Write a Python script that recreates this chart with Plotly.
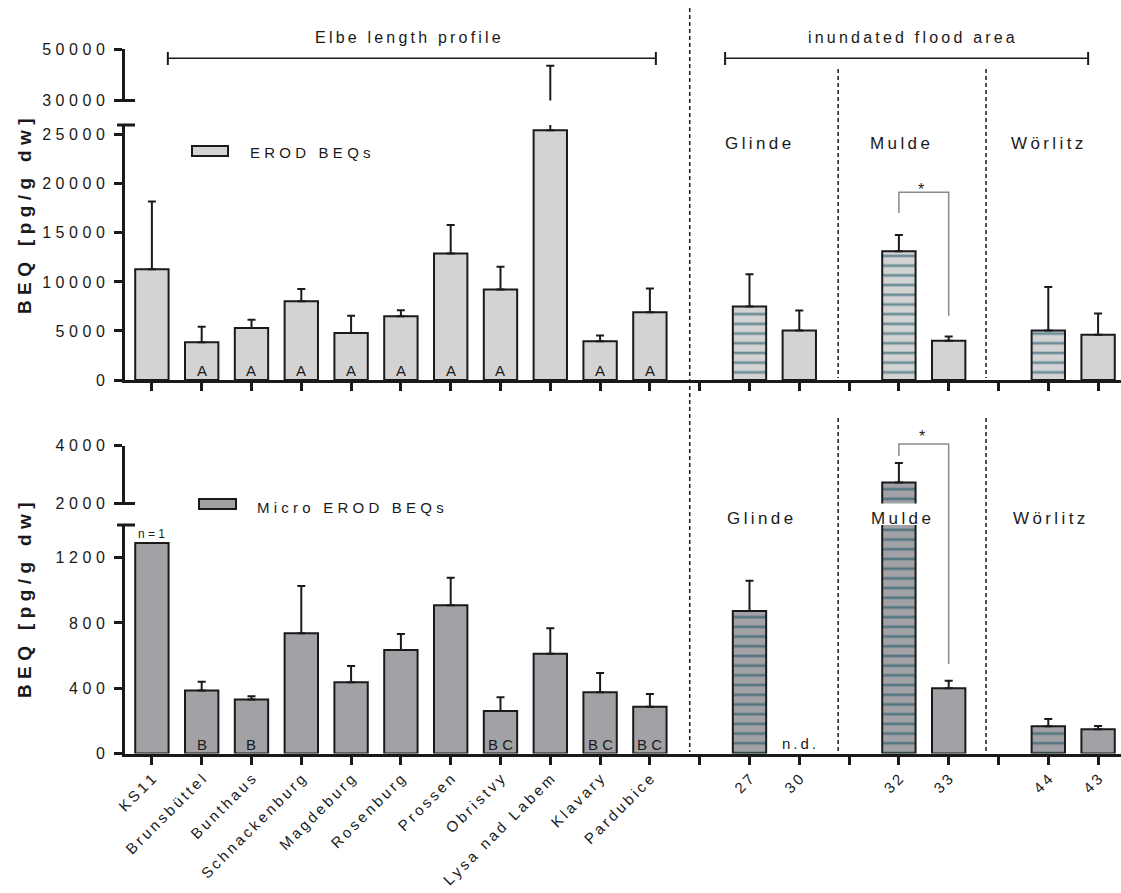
import plotly.graph_objects as go

# ---------------- data ----------------
sites_elbe = ["KS11", "Brunsbüttel", "Bunthaus", "Schnackenburg", "Magdeburg", "Rosenburg",
              "Prossen", "Obristvy", "Lysa nad Labem", "Klavary", "Pardubice"]
sites_flood = ["27", "30", "32", "33", "44", "43"]
categories = sites_elbe + sites_flood
group_sizes = [11, 2, 2, 2]          # Elbe profile, Glinde, Mulde, Wörlitz

erod_mean = [11280, 3860, 5290, 8040, 4780, 6510, 12910, 9230, 25460, 3960, 6920,
             7500, 5050, 13140, 4000, 5050, 4610]
erod_err = [6930, 1570, 850, 1230, 1770, 610, 2890, 2320, 18000, 580, 2420,
            3270, 2040, 1640, 440, 4420, 2180]
micro_mean = [1290, 386, 331, 736, 437, 634, 908, 261, 611, 376, 286,
              873, None, 2724, 400, 167, 149]
micro_err = [0, 53, 20, 290, 99, 98, 169, 83, 156, 117, 78,
             186, 0, 676, 45, 45, 20]
hatched = [False] * 11 + [True, False, True, False, True, False]
letters_erod = ["", "A", "A", "A", "A", "A", "A", "A", "", "A", "A"] + [""] * 6
letters_micro = ["", "B", "B", "", "", "", "", "B C", "", "B C", "B C"] + [""] * 6
group_labels = ["Glinde", "Mulde", "Wörlitz"]

top_ticks = [0, 5000, 10000, 15000, 20000, 25000]
top_break_ticks = [30000, 50000]
bot_ticks = [0, 400, 800, 1200]
bot_break_ticks = [2000, 4000]

# ---------------- helpers ----------------
W, H = 1121, 893
FONT = "Arial, Liberation Sans, Helvetica, sans-serif"
THIN = "\u2009"
WIDE = "\u2009\u200a"


def spaced(s, sep=THIN):
    return sep.join(list(s))


def px(x):
    return x / W


def py(y):
    return 1 - y / H


positions = []
p = 0
for g in group_sizes:
    positions += list(range(p, p + g))
    p += g + 1
n_slots = p - 1
tickvals = list(range(n_slots))
ticktext = []
for t in tickvals:
    ticktext.append(spaced(categories[positions.index(t)], THIN) if t in positions else "")

TOP_COLOR = "#d3d3d3"
BOT_COLOR = "#a2a2a6"
HATCH = "#08495c"
EDGE = "#1a1a1a"

fig = go.Figure()


def add_bars(vals, errs, color, xa, ya):
    fig.add_trace(go.Bar(
        x=positions, y=vals, width=0.67, xaxis=xa, yaxis=ya,
        marker=dict(color=color, line=dict(color=EDGE, width=2),
                    pattern=dict(shape=["-" if h else "" for h in hatched],
                                 fgcolor=HATCH, bgcolor=color, size=9.7,
                                 solidity=0.28, fillmode="overlay")),
        error_y=dict(type="data", symmetric=False, array=errs,
                     arrayminus=[0] * len(errs), color=EDGE, thickness=2, width=4),
        showlegend=False, hoverinfo="skip",
    ))


add_bars(erod_mean, erod_err, TOP_COLOR, "x", "y")
add_bars(erod_mean, erod_err, TOP_COLOR, "x", "y2")
add_bars(micro_mean, micro_err, BOT_COLOR, "x2", "y3")
add_bars(micro_mean, micro_err, BOT_COLOR, "x2", "y4")

xdom = [px(125), 1.0]
xrange_ = [-0.54, n_slots - 1 + 0.46]
tickfont = dict(family=FONT, size=16, color="#1a1a1a")

axis_common = dict(showline=True, linewidth=3, linecolor=EDGE, ticks="outside",
                   ticklen=8, tickwidth=3, tickcolor=EDGE, showgrid=False,
                   zeroline=False, tickfont=tickfont, automargin=False)

fig.update_layout(
    template="none",
    width=W, height=H, margin=dict(l=0, r=0, t=0, b=0, pad=0),
    paper_bgcolor="white", plot_bgcolor="white", showlegend=False,
    font=dict(family=FONT, color="#1a1a1a"),
    xaxis=dict(domain=xdom, range=xrange_, anchor="y", tickvals=tickvals,
               showticklabels=False, **axis_common),
    xaxis2=dict(domain=xdom, range=xrange_, anchor="y3", tickvals=tickvals,
                ticktext=ticktext, tickangle=-45, **axis_common),
    yaxis=dict(domain=[py(380), py(125)], range=[0, 26000], anchor="x",
               tickvals=top_ticks, ticktext=[spaced(str(v), WIDE) for v in top_ticks],
               ticklabelstandoff=6, **axis_common),
    yaxis2=dict(domain=[py(100.5), py(49)], range=[30000, 50000], anchor="x",
                tickvals=top_break_ticks,
                ticktext=[spaced(str(v), WIDE) for v in top_break_ticks],
                ticklabelstandoff=6, **axis_common),
    yaxis3=dict(domain=[py(753.5), py(525)], range=[0, 1400], anchor="x2",
                tickvals=bot_ticks, ticktext=[spaced(str(v), WIDE) for v in bot_ticks],
                ticklabelstandoff=6, **axis_common),
    yaxis4=dict(domain=[py(503.5), py(445.5)], range=[2000, 4000], anchor="x2",
                tickvals=bot_break_ticks,
                ticktext=[spaced(str(v), WIDE) for v in bot_break_ticks],
                ticklabelstandoff=6, **axis_common),
)
fig.update_xaxes(tickfont=dict(family=FONT, size=15, color="#1a1a1a"), selector=dict(anchor="y3"))

shapes = []
# axis break caps
for yy in (125, 100.5, 525, 503.5):
    shapes.append(dict(type="line", xref="paper", yref="paper", x0=px(117), x1=px(135),
                       y0=py(yy), y1=py(yy), line=dict(color=EDGE, width=3)))
# dashed separators
dash = "4px,3px"
shapes.append(dict(type="line", xref="x", yref="paper", x0=10.8, x1=10.8,
                   y0=py(8), y1=py(752), line=dict(color=EDGE, width=1.5, dash=dash)))
for xs in (13.78, 16.75):
    shapes.append(dict(type="line", xref="x", yref="paper", x0=xs, x1=xs,
                       y0=py(69), y1=py(378), line=dict(color=EDGE, width=1.5, dash=dash)))
    shapes.append(dict(type="line", xref="x", yref="paper", x0=xs, x1=xs,
                       y0=py(418), y1=py(752), line=dict(color=EDGE, width=1.5, dash=dash)))
# range brackets at top
for x0, x1 in ((0.32, 10.12), (11.51, 18.8)):
    shapes.append(dict(type="line", xref="x", yref="paper", x0=x0, x1=x1,
                       y0=py(58.3), y1=py(58.3), line=dict(color=EDGE, width=1.5)))
    for xe in (x0, x1):
        shapes.append(dict(type="line", xref="x", yref="paper", x0=xe, x1=xe,
                           y0=py(52), y1=py(65), line=dict(color=EDGE, width=2)))
# legend swatches
shapes.append(dict(type="rect", xref="paper", yref="paper", x0=px(192), x1=px(228),
                   y0=py(156), y1=py(146), fillcolor=TOP_COLOR, line=dict(color=EDGE, width=2)))
shapes.append(dict(type="rect", xref="paper", yref="paper", x0=px(199), x1=px(236),
                   y0=py(509), y1=py(499), fillcolor=BOT_COLOR, line=dict(color=EDGE, width=2)))
# significance brackets
GRAY = "#8a8a8a"
shapes.append(dict(type="path", xref="x", yref="paper",
                   path=f"M 15,{py(213)} L 15,{py(192.3)} L 16,{py(192.3)} L 16,{py(315.7)}",
                   line=dict(color=GRAY, width=1.5)))
shapes.append(dict(type="path", xref="x", yref="paper",
                   path=f"M 15,{py(456)} L 15,{py(444)} L 16,{py(444)} L 16,{py(664)}",
                   line=dict(color=GRAY, width=1.5)))
fig.update_layout(shapes=shapes)

ann = []


def text(x, y, s, size=16, xref="x", yref="paper", **kw):
    d = dict(x=x, y=y, xref=xref, yref=yref, text=s, showarrow=False,
             xanchor="center", yanchor="middle",
             font=dict(family=FONT, size=size, color="#1a1a1a"))
    d.update(kw)
    ann.append(d)


# y titles
for yc in (216, 600):
    text(px(24), py(yc), "<b>" + spaced("BEQ [pg/g dw]", WIDE) + "</b>", size=19,
         xref="paper", textangle=-90)
# headers
text(5.14, py(38), spaced("Elbe length profile"), size=16)
text(15.26, py(38), spaced("inundated flood area"), size=16)
# group labels
for lbl, xt, xb in zip(group_labels, (12.17, 15.02, 17.97), (12.21, 15.04, 18.01)):
    text(xt, py(144), spaced(lbl), size=17)
    text(xb, py(518), spaced(lbl), size=17)
# legends
text(px(248), py(153), spaced("EROD", WIDE) + "   " + spaced("BEQs", WIDE), size=15,
     xref="paper", xanchor="left")
text(px(255), py(507), spaced("Micro", WIDE) + "   " + spaced("EROD", WIDE) + "   "
     + spaced("BEQs", WIDE), size=15, xref="paper", xanchor="left")
# letters in bars
for pos, s in zip(positions, letters_erod):
    if s:
        text(pos, 0, s, size=15, yref="y", yanchor="bottom", yshift=-1)
for pos, s in zip(positions, letters_micro):
    if s:
        text(pos, 0, s, size=15, yref="y3", yanchor="bottom", yshift=-1)
# n = 1 and n.d.
text(positions[0], micro_mean[0], "n = 1", size=12, yref="y3", yanchor="bottom", yshift=0)
text(positions[12], 0, spaced("n.d."), size=15, yref="y3", yanchor="bottom", yshift=0)
# stars
text(15.45, py(190), "*", size=16)
text(15.47, py(437), "*", size=16)
fig.update_layout(annotations=ann)

fig.write_html("out.html")
